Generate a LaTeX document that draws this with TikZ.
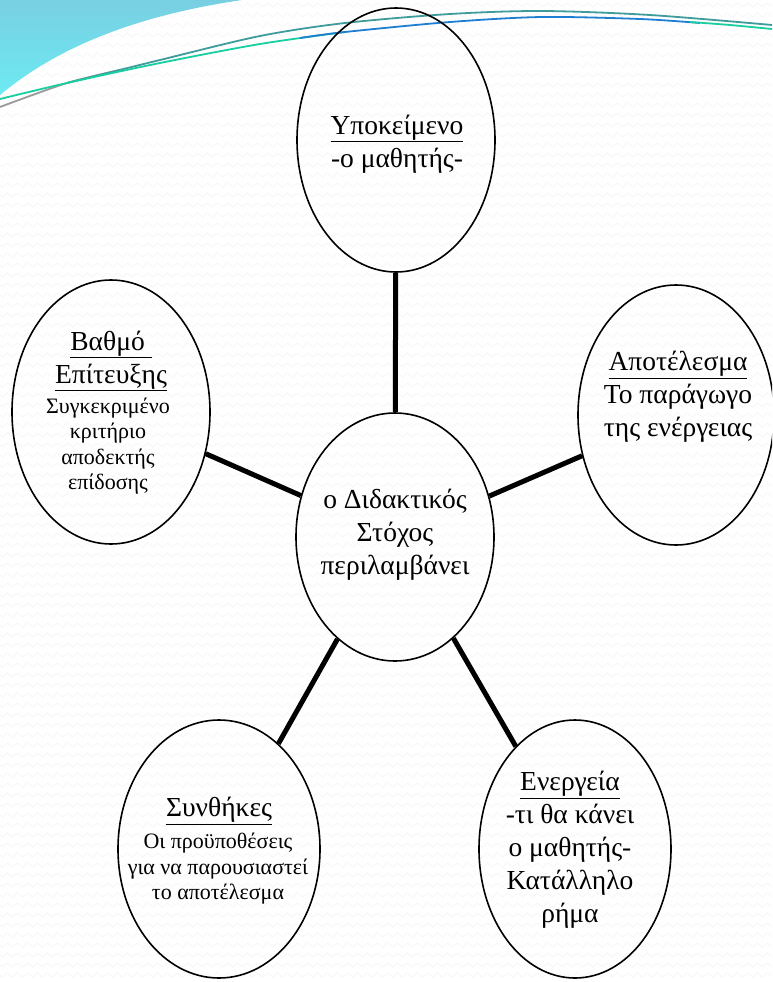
\documentclass[tikz,border=0pt]{standalone}
\usepackage{fontspec}
\setmainfont{Liberation Serif}
\usetikzlibrary{shapes.geometric,decorations.pathmorphing}
\definecolor{bgzig}{HTML}{F6F6F6}
\definecolor{cyantop}{HTML}{78CFE2}
\definecolor{cyanbot}{HTML}{6DEAF2}
\definecolor{swteal}{HTML}{3F9C9C}
\definecolor{swgray}{HTML}{9A9A9A}
\definecolor{swgreen}{HTML}{17CFA0}
\definecolor{swblue}{HTML}{1E7FD2}
\tikzset{
  bub/.style={draw=black, ellipse, line width=1.6pt, inner sep=0pt},
  link/.style={line width=5pt, black},
  bigtxt/.style={font=\fontsize{27.5}{33}\selectfont, align=center, inner sep=0pt},
  smalltxt/.style={font=\fontsize{22}{25.5}\selectfont, align=center, inner sep=0pt},
  zig/.style={draw=bgzig, line width=0.7pt, decorate, decoration={zigzag, segment length=10pt, amplitude=2pt}},
  swoosh/.style={line width=1.8pt},
}
\begin{document}
\begin{tikzpicture}[x=1pt, y=-1pt]
\useasboundingbox (0,0) rectangle (772,982);
\clip (0,0) rectangle (772,982);
\fill[white] (0,0) rectangle (772,982);
% background zigzag texture
\foreach \r in {5,15,...,985} {
  \path[zig] (-5,\r) -- (780,\r);
}
% top-left cyan swoosh
\shade[top color=cyantop, bottom color=cyanbot]
  (0,0) -- (242,0) .. controls (140,15) and (60,45) .. (0,95) -- cycle;
% swoosh lines
\draw[swoosh, swgray] plot[smooth] coordinates {(0,107) (67,83) (120,70)};
\draw[swoosh, swteal] plot[smooth] coordinates {(67,83) (160,60) (260,36) (345,23) (450,14) (542,11) (650,15) (772,25)};
\draw[swoosh, swgreen] plot[smooth] coordinates {(0,99) (67,83) (160,63) (260,44) (345,32)};
\draw[swoosh, swblue] plot[smooth] coordinates {(300,38) (345,32) (450,22) (542,17) (640,19) (700,23)};
\draw[swoosh, swgreen] plot[smooth] coordinates {(690,22) (730,25) (772,29)};

% ellipses
\node[bub, minimum width=198pt, minimum height=264pt] (top) at (396,140) {};
\node[bub, minimum width=198pt, minimum height=248pt] (mid) at (395,537) {};
\node[bub, minimum width=198pt, minimum height=264pt] (lft) at (111,412) {};
\node[bub, minimum width=196pt, minimum height=260pt] (rgt) at (676,415) {};
\node[bub, minimum width=202pt, minimum height=258pt] (bl) at (219,849) {};
\node[bub, minimum width=192pt, minimum height=258pt] (br) at (575,849) {};

% connectors
\draw[link] (mid) -- (top);
\draw[link] (mid) -- (lft);
\draw[link] (mid) -- (rgt);
\draw[link] (mid) -- (bl);
\draw[link] (mid) -- (br);

% texts
\node[bigtxt] (ttop) at (397,144) {\underline{Υποκείμενο}\\-ο μαθητής-};
\node[bigtxt] (tmid) at (395,535) {ο Διδακτικός\\Στόχος\\περιλαμβάνει};
\node[bigtxt] (tlfth) at (111,361) {\underline{Βαθμό\ }\\\underline{Επίτευξης}};
\node[smalltxt] (tlftb) at (108,446) {Συγκεκριμένο\\κριτήριο\\αποδεκτής\\επίδοσης};
\node[bigtxt] (trgt) at (678,397) {\underline{Αποτέλεσμα}\\Το παράγωγο\\της ενέργειας};
\node[bigtxt] (tblh) at (219,811) {\underline{Συνθήκες}};
\node[smalltxt] (tblb) at (218,869) {Οι προϋποθέσεις\\για να παρουσιαστεί\\το αποτέλεσμα};
\node[bigtxt] (tbr) at (570,850) {\underline{Ενεργεία}\\-τι θα κάνει\\ο μαθητής-\\Κατάλληλο\\ρήμα};
\end{tikzpicture}
\end{document}
